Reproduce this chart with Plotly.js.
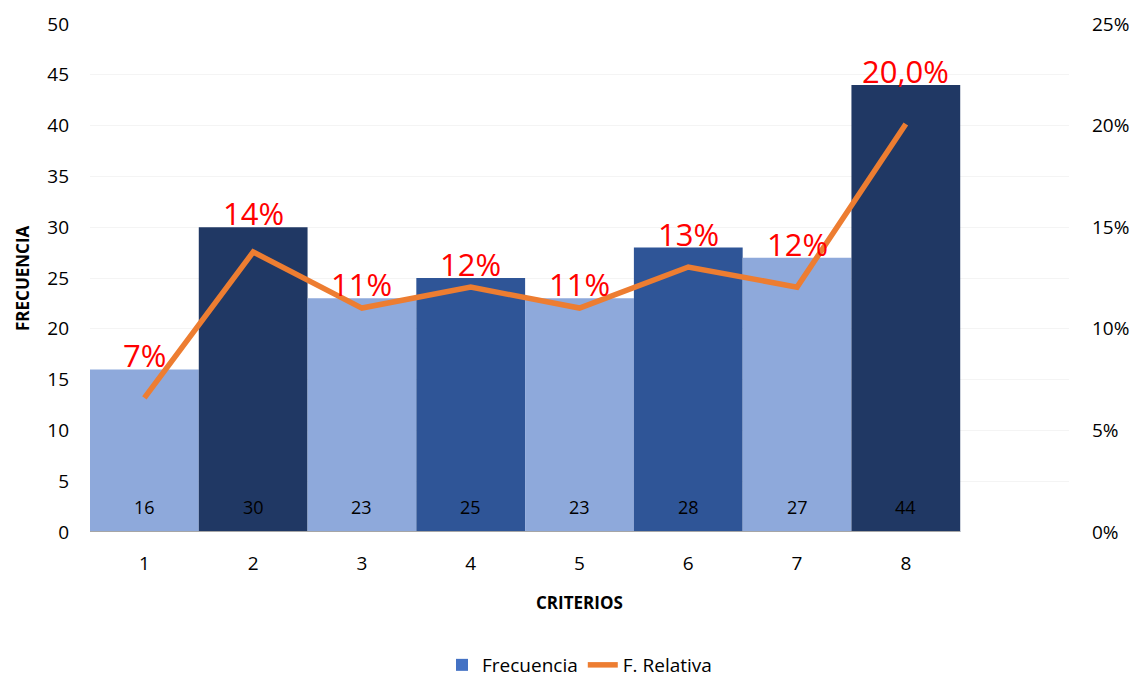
<!DOCTYPE html>
<html><head><meta charset="utf-8">
<script src="https://cdn.plot.ly/plotly-3.0.1.min.js"></script>
<style>html,body{margin:0;padding:0;background:#fff}#c{width:1136px;height:681px}</style>
</head><body><div id="c"></div>
<script>
const categories = [1, 2, 3, 4, 5, 6, 7, 8];
const frecuencia = [16, 30, 23, 25, 23, 28, 27, 44];
const fRelativa = [0.066, 0.1378, 0.1102, 0.1205, 0.1102, 0.1304, 0.1205, 0.2008];
const pctLabels = ["7%", "14%", "11%", "12%", "11%", "13%", "12%", "20,0%"];
const barColors = ["#8EA9DB", "#203864", "#8EA9DB", "#2F5597", "#8EA9DB", "#2F5597", "#8EA9DB", "#203864"];

const FONT = "'Open Sans', Lato, sans-serif";
const W = 1136, H = 681, ML = 90, MR = 67, MT = 24, MB = 149;
const PW = W - ML - MR, PH = H - MT - MB;

const traces = [
  {
    type: 'bar', x: categories, y: frecuencia, width: 1,
    marker: {color: barColors, line: {width: 0}},
    showlegend: false, hoverinfo: 'skip', name: 'Frecuencia'
  },
  {
    type: 'bar', x: [null], y: [null], name: 'Frecuencia',
    marker: {color: '#4472C4'}, showlegend: true
  },
  {
    type: 'scatter', mode: 'lines', x: categories, y: fRelativa, yaxis: 'y2',
    name: 'F. Relativa',
    line: {color: '#ED7D31', width: 5.5}
  }
];

const annotations = [];
categories.forEach((c, i) => {
  annotations.push({
    x: c, y: 0, xref: 'x', yref: 'y', text: String(frecuencia[i]),
    showarrow: false, yanchor: 'middle', yshift: 25,
    font: {family: FONT, size: 18, color: '#000'}
  });
  annotations.push({
    x: c, y: frecuencia[i], xref: 'x', yref: 'y', text: pctLabels[i],
    showarrow: false, yanchor: 'middle', yshift: 14,
    font: {family: FONT, size: 31, color: '#FF0000'}
  });
});
annotations.push({
  text: '<b>CRITERIOS</b>', xref: 'paper', yref: 'paper', x: 0.5, y: -70 / PH,
  xanchor: 'center', yanchor: 'middle', showarrow: false,
  font: {family: FONT, size: 17, color: '#000'}
});
annotations.push({
  text: '<b>FRECUENCIA</b>', xref: 'paper', yref: 'paper', x: (22 - ML) / PW, y: 0.5,
  xanchor: 'center', yanchor: 'middle', showarrow: false, textangle: -90,
  font: {family: FONT, size: 17, color: '#000'}
});

const layout = {
  width: W, height: H,
  margin: {l: ML, r: MR, t: MT, b: MB, autoexpand: false},
  paper_bgcolor: '#fff', plot_bgcolor: '#fff',
  font: {family: FONT, size: 19, color: '#000'},
  barmode: 'overlay',
  xaxis: {
    range: [0.5, categories.length + 1.5],
    tickvals: categories, ticktext: categories.map(String),
    showgrid: false, zeroline: false, showline: false, ticks: '',
    tickfont: {size: 19}, automargin: false, ticklabelstandoff: 18
  },
  yaxis: {
    range: [0, 50], dtick: 5, showgrid: true, gridcolor: '#F4F4F4', gridwidth: 1,
    zeroline: false, showline: false, ticks: '', tickfont: {size: 19},
    ticklabelstandoff: 20, automargin: false
  },
  yaxis2: {
    range: [0, 0.25], dtick: 0.05, tickformat: '.0%', overlaying: 'y', side: 'right',
    showgrid: false, zeroline: false, showline: false, ticks: '', tickfont: {size: 19},
    ticklabelstandoff: 22, automargin: false
  },
  shapes: [{
    type: 'line', xref: 'x', yref: 'y', x0: categories[0] - 0.5, x1: categories[categories.length - 1] + 0.5,
    y0: 0, y1: 0, line: {color: '#A6A6A6', width: 2}
  }],
  legend: {
    orientation: 'h', x: 0.5, xanchor: 'center', xref: 'paper',
    y: 1 - 665 / H, yref: 'container', yanchor: 'middle',
    font: {size: 19}
  },
  annotations: annotations
};

Plotly.newPlot('c', traces, layout, {displayModeBar: false, staticPlot: true});
</script></body></html>
